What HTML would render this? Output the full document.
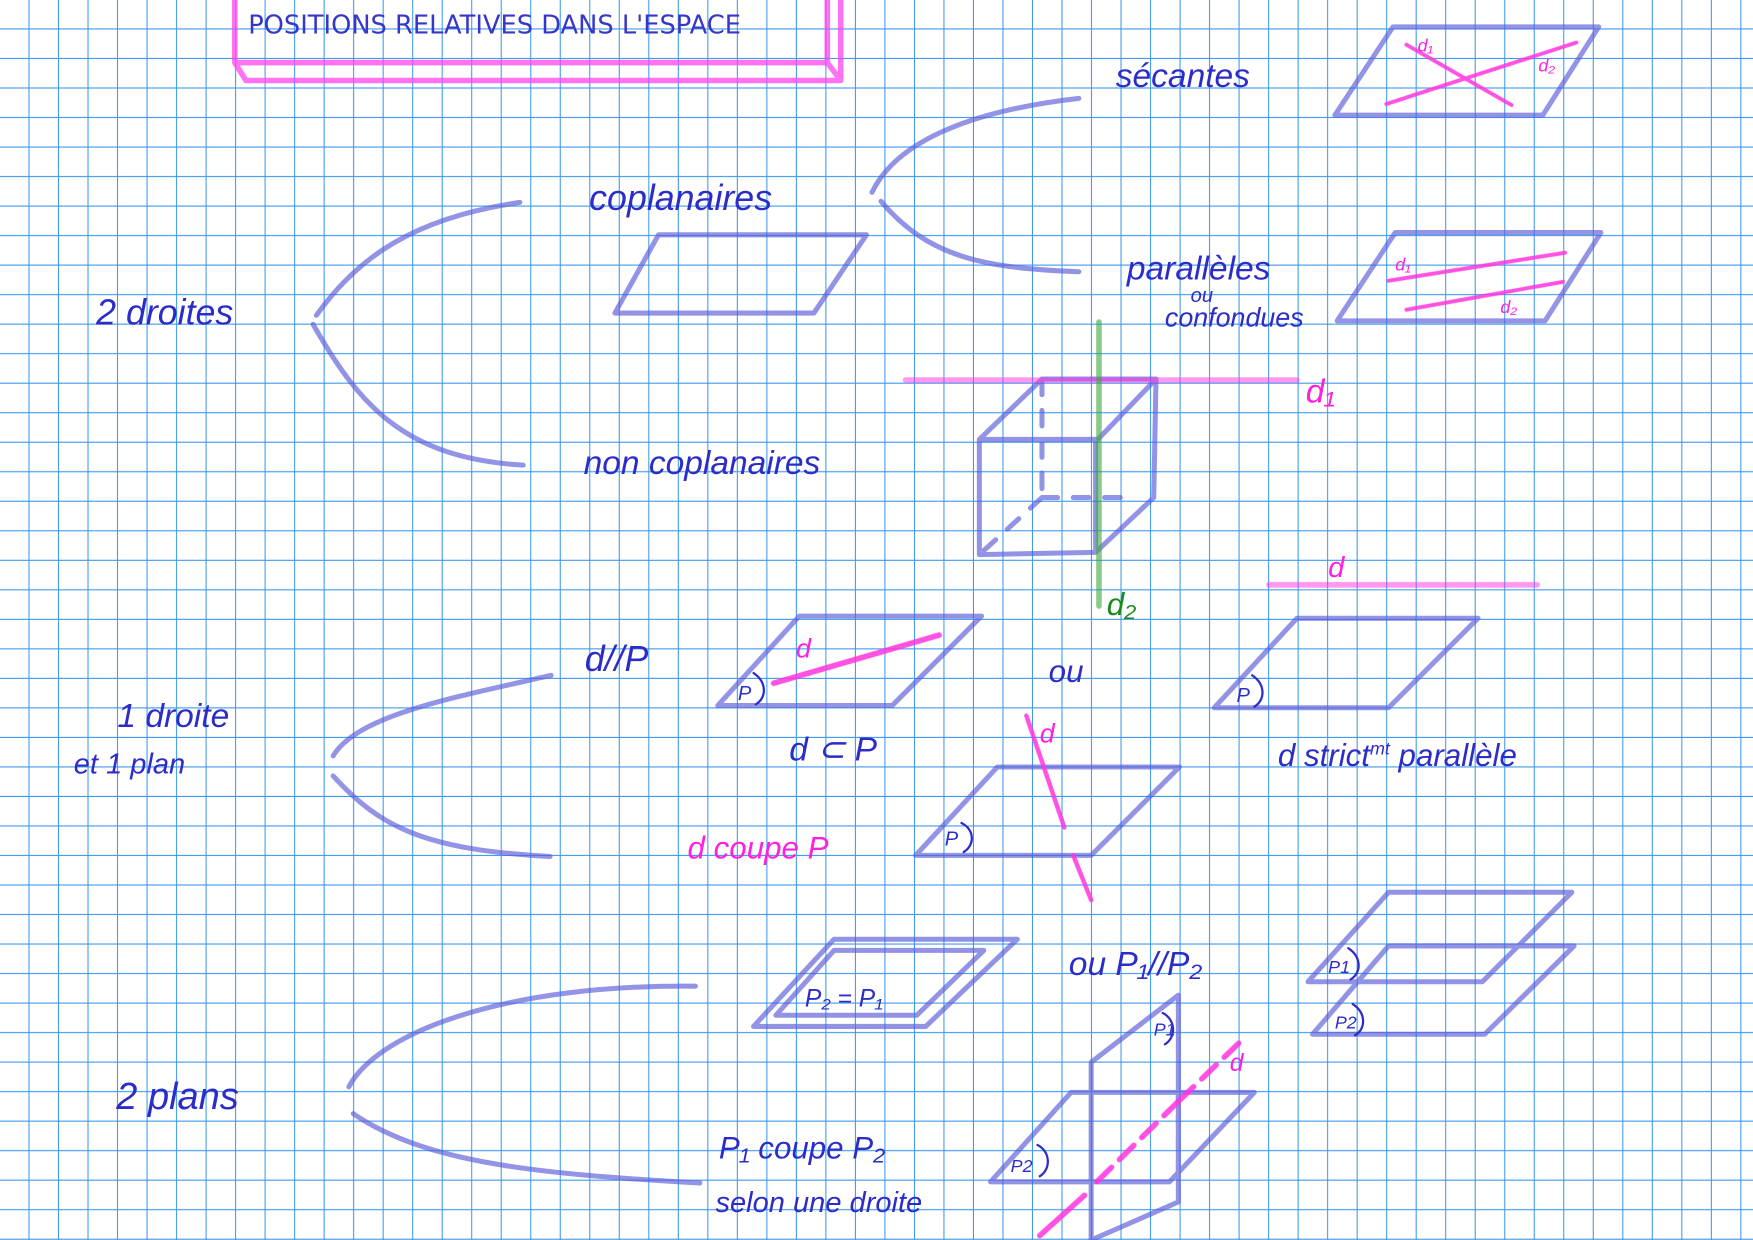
<!DOCTYPE html>
<html><head><meta charset="utf-8"><style>
html,body{margin:0;padding:0;background:#fff}
svg{display:block}
.h{font-family:"Liberation Sans",sans-serif;font-style:italic;fill:#2c2cc8}
.m{font-family:"Liberation Sans",sans-serif;font-style:italic;fill:#ff1fe0}
</style></head><body>
<svg width="1753" height="1240" viewBox="0 0 1568 1109" preserveAspectRatio="none" xmlns="http://www.w3.org/2000/svg">
<defs><pattern id="g" x="0" y="0" width="26.4" height="26.4" patternUnits="userSpaceOnUse">
<path d="M26.4 0V26.4M0 26.4H26.4" stroke="#3d98ee" stroke-width="1.9" fill="none"/></pattern></defs>
<rect width="1568" height="1109" fill="#fff"/>
<rect width="1568" height="1109" fill="url(#g)"/>
<g fill="none" stroke-linecap="round" stroke-linejoin="round">
<path d="M210 0V56L220 72H752V0M210 56H740L752 72M740 0V56" stroke="#ff44ee" stroke-width="5" opacity="0.75"/>
<g stroke="#5a5ad8" stroke-width="4.5" opacity="0.65">
<path d="M965 88C860 100 800 130 780 172"/>
<path d="M788 180C830 230 880 240 965 243"/>
<path d="M465 181C370 195 320 230 283 282"/>
<path d="M280 290C320 360 360 410 468 416"/>
<path d="M493 604C400 625 320 640 298 676"/>
<path d="M298 694C340 740 380 760 492 766"/>
<path d="M622 882C460 880 340 920 312 972"/>
<path d="M316 996C380 1040 480 1050 626 1058"/>
<path d="M589 210H775L728 280H550Z"/>
<path d="M1246 24H1430L1380 103H1194Z"/>
<path d="M1248 208H1432L1382 287H1196Z"/>
<path d="M715 551H878L798 631H642Z"/>
<path d="M1160 553H1322L1242 633H1086Z"/>
<path d="M892 686H1055L976 765H819Z"/>
<path d="M746 840H910L828 918H674Z"/>
<path d="M746 850H880L820 908H694Z"/>
<path d="M1242 798H1406L1326 878H1170Z"/>
<path d="M1242 846H1408L1328 925H1174Z"/>
<path d="M876 393L932 339H1034L982 393ZM876 393V496L980 494V393M1034 339L1032 445L980 494"/>
<path d="M932 339V445M932 445H1016M932 445L876 496" stroke-dasharray="14 14"/>
<path d="M976 950L1054 890V1075L976 1109M976 950V1109"/>
<path d="M958 977H1122L1046 1057H886Z"/>
<path d="M1054 978V1057" stroke-dasharray="10 10"/>
</g>
<g stroke="#ff33dd" stroke-width="3.5" opacity="0.85">
<path d="M810 340H1160" stroke-width="5" opacity="0.6"/>
<path d="M1135 523H1375" stroke-width="5" opacity="0.6"/>
<path d="M1258 40L1352 94M1240 93L1410 38"/>
<path d="M1242 251L1400 226M1258 277L1398 252"/>
<path d="M692 611L840 568" stroke-width="5"/>
<path d="M918 640L952 740M960 765L976 805" stroke-width="4"/>
<path d="M1108 933L1054 985M1054 985L980 1058" stroke-dasharray="18 10" stroke-width="5"/>
<path d="M970 1069L930 1105" stroke-width="5"/>
</g>
<path d="M983 288V542" stroke="#3aa83a" stroke-width="5" opacity="0.6"/>
<g stroke="#2c2cc8" stroke-width="2">
<path d="M674 602C686 610 686 624 676 630"/><path d="M1120 604C1132 612 1132 626 1122 632"/>
<path d="M860 736C872 742 872 756 862 762"/><path d="M1206 848C1218 856 1218 870 1208 876"/>
<path d="M1210 898C1222 906 1222 920 1212 926"/><path d="M1040 906C1052 912 1052 928 1042 934"/>
<path d="M928 1024C940 1030 940 1046 930 1052"/>
</g>
</g>
<text x="222" y="30" font-family="'DejaVu Sans',sans-serif" font-size="23" fill="#3636c8">POSITIONS RELATIVES DANS L'ESPACE</text>
<text class="h" x="998" y="78" font-size="30">sécantes</text>
<text class="h" x="527" y="188" font-size="32">coplanaires</text>
<text class="h" x="86" y="290" font-size="32">2 droites</text>
<text class="h" x="1008" y="250" font-size="30">parallèles</text>
<text class="h" x="1065" y="270" font-size="18">ou</text>
<text class="h" x="1042" y="292" font-size="24">confondues</text>
<text class="h" x="522" y="424" font-size="30">non coplanaires</text>
<text class="h" x="523" y="600" font-size="32">d//P</text>
<text class="h" x="105" y="650" font-size="30">1 droite</text>
<text class="h" x="66" y="692" font-size="26">et 1 plan</text>
<text class="h" x="938" y="610" font-size="28">ou</text>
<text class="h" x="706" y="680" font-size="30">d ⊂ P</text>
<text class="h" x="1143" y="685" font-size="28">d  strict<tspan font-size="16" dy="-10">mt</tspan><tspan dy="10">  parallèle</tspan></text>
<text class="m" x="615" y="768" font-size="28">d  coupe P</text>
<text class="h" x="956" y="872" font-size="30">ou  P₁//P₂</text>
<text class="h" x="720" y="900" font-size="22">P₂ = P₁</text>
<text class="h" x="104" y="992" font-size="34">2 plans</text>
<text class="h" x="643" y="1036" font-size="28">P₁ coupe P₂</text>
<text class="h" x="640" y="1084" font-size="26">selon une droite</text>
<text class="m" x="1168" y="360" font-size="30">d₁</text>
<text x="990" y="550" font-size="28" font-family="Liberation Sans" font-style="italic" fill="#1a8a1a">d₂</text>
<text class="m" x="1188" y="516" font-size="26">d</text>
<text class="m" x="712" y="588" font-size="24">d</text>
<text class="m" x="930" y="664" font-size="24">d</text>
<text class="m" x="1100" y="958" font-size="22">d</text>
<text class="m" x="1268" y="46" font-size="16">d₁</text>
<text class="m" x="1376" y="64" font-size="16">d₂</text>
<text class="m" x="1248" y="242" font-size="16">d₁</text>
<text class="m" x="1342" y="280" font-size="16">d₂</text>
<text class="h" x="660" y="626" font-size="18">P</text>
<text class="h" x="1106" y="628" font-size="18">P</text>
<text class="h" x="845" y="756" font-size="18">P</text>
<text class="h" x="1188" y="870" font-size="16">P1</text>
<text class="h" x="1194" y="920" font-size="16">P2</text>
<text class="h" x="1032" y="926" font-size="16">P1</text>
<text class="h" x="904" y="1048" font-size="16">P2</text>
</svg>
</body></html>
